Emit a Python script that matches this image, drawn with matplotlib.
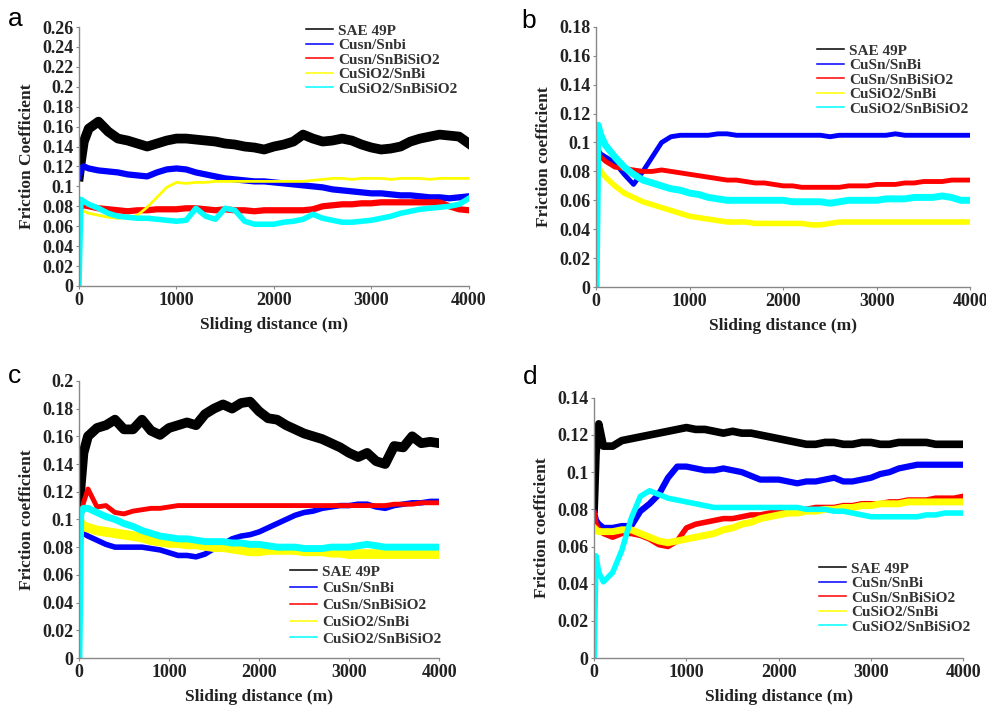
import numpy as np
import matplotlib
matplotlib.use("Agg")
import matplotlib.pyplot as plt
from matplotlib.lines import Line2D

# sliding distance grid (m)
dist = [0, 20, 50] + list(range(100, 4001, 100))

labels_a = ["SAE 49P", "Cusn/Snbi", "Cusn/SnBiSiO2", "CuSiO2/SnBi", "CuSiO2/SnBiSiO2"]
labels_bcd = ["SAE 49P", "CuSn/SnBi", "CuSn/SnBiSiO2", "CuSiO2/SnBi", "CuSiO2/SnBiSiO2"]

# ---- panel a ----
a_sae = [0.110, 0.125, 0.145, 0.158, 0.165, 0.155, 0.148, 0.146, 0.143, 0.140,
         0.143, 0.146, 0.148, 0.148, 0.147, 0.146, 0.145, 0.143, 0.142, 0.140,
         0.139, 0.137, 0.140, 0.142, 0.145, 0.152, 0.148, 0.145, 0.146, 0.148,
         0.146, 0.142, 0.139, 0.137, 0.138, 0.140, 0.145, 0.148, 0.150, 0.152,
         0.151, 0.150, 0.143]
a_cusn = [0.110, 0.118, 0.120, 0.118, 0.116, 0.115, 0.114, 0.112, 0.111, 0.110,
          0.114, 0.117, 0.118, 0.117, 0.114, 0.112, 0.110, 0.108, 0.107, 0.106,
          0.105, 0.105, 0.104, 0.103, 0.102, 0.101, 0.100, 0.099, 0.097, 0.096,
          0.095, 0.094, 0.093, 0.093, 0.092, 0.091, 0.091, 0.090, 0.089, 0.089,
          0.088, 0.089, 0.090]
a_cusn_sio2 = [0.065, 0.082, 0.081, 0.080, 0.078, 0.077, 0.076, 0.075, 0.076, 0.076,
               0.077, 0.077, 0.077, 0.078, 0.078, 0.077, 0.076, 0.077, 0.076, 0.076,
               0.075, 0.076, 0.076, 0.076, 0.076, 0.076, 0.077, 0.080, 0.081, 0.082,
               0.082, 0.083, 0.083, 0.084, 0.084, 0.084, 0.084, 0.084, 0.084, 0.084,
               0.080, 0.077, 0.076]
a_cusio2 = [0.082, 0.078, 0.075, 0.073, 0.071, 0.069, 0.068, 0.069, 0.071, 0.079,
            0.089, 0.099, 0.104, 0.103, 0.104, 0.104, 0.105, 0.105, 0.105, 0.105,
            0.105, 0.105, 0.105, 0.105, 0.105, 0.105, 0.106, 0.107, 0.108, 0.108,
            0.107, 0.108, 0.108, 0.108, 0.107, 0.108, 0.108, 0.108, 0.107, 0.108,
            0.108, 0.108, 0.108]
a_cusio2_sio2 = [0.000, 0.087, 0.085, 0.082, 0.078, 0.073, 0.070, 0.069, 0.068, 0.068,
                 0.067, 0.066, 0.065, 0.066, 0.078, 0.070, 0.067, 0.078, 0.076, 0.065,
                 0.062, 0.062, 0.062, 0.064, 0.065, 0.067, 0.072, 0.068, 0.066, 0.064,
                 0.064, 0.065, 0.066, 0.068, 0.070, 0.073, 0.075, 0.077, 0.078, 0.079,
                 0.080, 0.082, 0.088]

# ---- panel b (no SAE 49P curve drawn in the original) ----
b_sae = []
b_cusn = [0.110, 0.095, 0.092, 0.090, 0.086, 0.078, 0.071, 0.080, 0.090, 0.100,
          0.104, 0.105, 0.105, 0.105, 0.105, 0.106, 0.106, 0.105, 0.105, 0.105,
          0.105, 0.105, 0.105, 0.105, 0.105, 0.105, 0.105, 0.104, 0.105, 0.105,
          0.105, 0.105, 0.105, 0.105, 0.106, 0.105, 0.105, 0.105, 0.105, 0.105,
          0.105, 0.105, 0.105]
b_cusn_sio2 = [0.095, 0.092, 0.090, 0.087, 0.083, 0.082, 0.081, 0.080, 0.080, 0.081,
               0.080, 0.079, 0.078, 0.077, 0.076, 0.075, 0.074, 0.074, 0.073, 0.072,
               0.072, 0.071, 0.070, 0.070, 0.069, 0.069, 0.069, 0.069, 0.069, 0.070,
               0.070, 0.070, 0.071, 0.071, 0.071, 0.072, 0.072, 0.073, 0.073, 0.073,
               0.074, 0.074, 0.074]
b_cusio2 = [0.090, 0.084, 0.080, 0.076, 0.070, 0.065, 0.062, 0.059, 0.057, 0.055,
            0.053, 0.051, 0.049, 0.048, 0.047, 0.046, 0.045, 0.045, 0.045, 0.044,
            0.044, 0.044, 0.044, 0.044, 0.044, 0.043, 0.043, 0.044, 0.045, 0.045,
            0.045, 0.045, 0.045, 0.045, 0.045, 0.045, 0.045, 0.045, 0.045, 0.045,
            0.045, 0.045, 0.045]
b_cusio2_sio2 = [0.000, 0.112, 0.105, 0.098, 0.090, 0.083, 0.078, 0.074, 0.072, 0.070,
                 0.068, 0.067, 0.065, 0.064, 0.062, 0.061, 0.060, 0.060, 0.060, 0.060,
                 0.060, 0.060, 0.060, 0.059, 0.059, 0.059, 0.059, 0.058, 0.059, 0.060,
                 0.060, 0.060, 0.060, 0.061, 0.061, 0.061, 0.062, 0.062, 0.062, 0.063,
                 0.062, 0.060, 0.060]

# ---- panel c ----
c_sae = [0.100, 0.125, 0.148, 0.160, 0.166, 0.168, 0.172, 0.165, 0.165, 0.172,
         0.164, 0.161, 0.166, 0.168, 0.170, 0.168, 0.176, 0.180, 0.183, 0.180,
         0.184, 0.185, 0.178, 0.173, 0.172, 0.168, 0.165, 0.162, 0.160, 0.158,
         0.155, 0.152, 0.148, 0.145, 0.148, 0.142, 0.140, 0.153, 0.152, 0.160,
         0.155, 0.156, 0.155]
c_cusn = [0.085, 0.092, 0.090, 0.088, 0.085, 0.082, 0.080, 0.080, 0.080, 0.080,
          0.079, 0.078, 0.076, 0.074, 0.074, 0.073, 0.075, 0.079, 0.082, 0.086,
          0.088, 0.089, 0.091, 0.094, 0.097, 0.100, 0.103, 0.105, 0.106, 0.108,
          0.109, 0.110, 0.110, 0.111, 0.111, 0.109, 0.108, 0.110, 0.111, 0.112,
          0.112, 0.113, 0.113]
c_cusn_sio2 = [0.068, 0.100, 0.112, 0.122, 0.109, 0.110, 0.105, 0.104, 0.106, 0.107,
               0.108, 0.108, 0.109, 0.110, 0.110, 0.110, 0.110, 0.110, 0.110, 0.110,
               0.110, 0.110, 0.110, 0.110, 0.110, 0.110, 0.110, 0.110, 0.110, 0.110,
               0.110, 0.110, 0.110, 0.110, 0.110, 0.110, 0.110, 0.111, 0.111, 0.111,
               0.112, 0.112, 0.112]
c_cusio2 = [0.100, 0.097, 0.095, 0.094, 0.092, 0.091, 0.090, 0.089, 0.088, 0.087,
            0.085, 0.084, 0.083, 0.083, 0.082, 0.082, 0.081, 0.080, 0.080, 0.079,
            0.078, 0.077, 0.077, 0.078, 0.078, 0.078, 0.078, 0.077, 0.077, 0.077,
            0.076, 0.076, 0.075, 0.075, 0.075, 0.075, 0.075, 0.075, 0.075, 0.075,
            0.075, 0.075, 0.075]
c_cusio2_sio2 = [0.000, 0.105, 0.108, 0.108, 0.105, 0.102, 0.100, 0.097, 0.095, 0.092,
                 0.090, 0.088, 0.087, 0.086, 0.086, 0.085, 0.084, 0.084, 0.084, 0.083,
                 0.083, 0.082, 0.082, 0.081, 0.080, 0.080, 0.080, 0.079, 0.079, 0.079,
                 0.080, 0.080, 0.080, 0.081, 0.082, 0.081, 0.080, 0.080, 0.080, 0.080,
                 0.080, 0.080, 0.080]

# ---- panel d ----
d_sae = [0.080, 0.110, 0.126, 0.114, 0.114, 0.117, 0.118, 0.119, 0.120, 0.121,
         0.122, 0.123, 0.124, 0.123, 0.123, 0.122, 0.121, 0.122, 0.121, 0.121,
         0.120, 0.119, 0.118, 0.117, 0.116, 0.115, 0.115, 0.116, 0.116, 0.115,
         0.115, 0.116, 0.116, 0.115, 0.115, 0.116, 0.116, 0.116, 0.116, 0.115,
         0.115, 0.115, 0.115]
d_cusn = [0.078, 0.074, 0.072, 0.070, 0.070, 0.071, 0.071, 0.079, 0.083, 0.088,
          0.097, 0.103, 0.103, 0.102, 0.101, 0.101, 0.102, 0.101, 0.100, 0.098,
          0.096, 0.096, 0.096, 0.095, 0.094, 0.095, 0.095, 0.096, 0.097, 0.095,
          0.095, 0.096, 0.097, 0.099, 0.100, 0.102, 0.103, 0.104, 0.104, 0.104,
          0.104, 0.104, 0.104]
d_cusn_sio2 = [0.078, 0.072, 0.069, 0.067, 0.065, 0.067, 0.067, 0.066, 0.064, 0.061,
               0.060, 0.063, 0.070, 0.072, 0.073, 0.074, 0.075, 0.075, 0.076, 0.077,
               0.077, 0.078, 0.079, 0.079, 0.080, 0.080, 0.081, 0.081, 0.081, 0.082,
               0.082, 0.083, 0.083, 0.083, 0.084, 0.084, 0.085, 0.085, 0.085, 0.086,
               0.086, 0.086, 0.087]
d_cusio2 = [0.070, 0.069, 0.068, 0.068, 0.068, 0.069, 0.069, 0.067, 0.065, 0.063,
            0.062, 0.063, 0.064, 0.065, 0.066, 0.067, 0.069, 0.070, 0.072, 0.073,
            0.075, 0.076, 0.077, 0.078, 0.078, 0.079, 0.079, 0.080, 0.080, 0.081,
            0.081, 0.082, 0.082, 0.083, 0.083, 0.083, 0.084, 0.084, 0.084, 0.084,
            0.084, 0.084, 0.084]
d_cusio2_sio2 = [0.000, 0.055, 0.046, 0.041, 0.046, 0.058, 0.075, 0.087, 0.090, 0.088,
                 0.086, 0.085, 0.084, 0.083, 0.082, 0.081, 0.081, 0.081, 0.081, 0.081,
                 0.081, 0.081, 0.081, 0.081, 0.081, 0.080, 0.080, 0.080, 0.079, 0.079,
                 0.078, 0.077, 0.076, 0.076, 0.076, 0.076, 0.076, 0.076, 0.077, 0.077,
                 0.078, 0.078, 0.078]

colors = ["#000000", "#0000ff", "#ff0000", "#ffff00", "#00ffff"]
serif = "Liberation Serif"

panels = [
    # tag, axes rect, series, labels, ymax, ylabel, line widths, legend anchor (fig px), label spacing
    ("a", [0.080, 0.5955, 0.395, 0.3663], [a_sae, a_cusn, a_cusn_sio2, a_cusio2, a_cusio2_sio2],
     labels_a, 0.26, "Friction Coefficient", [7, 4.5, 4.5, 2, 4], (306, 24), 0.05),
    ("b", [0.604, 0.594, 0.379, 0.368], [b_sae, b_cusn, b_cusn_sio2, b_cusio2, b_cusio2_sio2],
     labels_bcd, 0.18, "Friction coefficient", [1, 3.5, 3.5, 4, 5], (817, 44), 0.05),
    ("c", [0.080, 0.0693, 0.365, 0.392], [c_sae, c_cusn, c_cusn_sio2, c_cusio2, c_cusio2_sio2],
     labels_bcd, 0.20, "Friction coefficient", [7, 4, 3.5, 7, 5], (290, 565), 0.2),
    ("d", [0.602, 0.0693, 0.374, 0.368], [d_sae, d_cusn, d_cusn_sio2, d_cusio2, d_cusio2_sio2],
     labels_bcd, 0.14, "Friction coefficient", [5.5, 4.5, 4, 5, 4], (819, 562), 0.05),
]
tag_pos = {"a": (8, 26), "b": (521, 28), "c": (8, 383), "d": (523, 384)}

W, H = 987, 707
fig = plt.figure(figsize=(W / 100, H / 100), dpi=100)

for tag, rect, series, labels, ymax, ylabel, lws, leg_xy, lsp in panels:
    ax = fig.add_axes(rect)
    for vals, col, lw in zip(series, colors, lws):
        ax.plot(dist[:len(vals)], vals, color=col, lw=lw, solid_joinstyle="round")
    ax.set_xlim(0, 4000)
    ax.set_ylim(0, ymax)
    ax.set_xticks([0, 1000, 2000, 3000, 4000])
    ax.set_yticks(np.arange(0, ymax + 0.001, 0.02))
    ax.set_yticklabels(["%g" % round(v, 2) for v in ax.get_yticks()])
    for s in ["top", "right"]:
        ax.spines[s].set_visible(False)
    for s in ["left", "bottom"]:
        ax.spines[s].set_color("#888888")
        ax.spines[s].set_linewidth(1.0)
    ax.tick_params(length=2, color="#888888", pad=2)
    for t in ax.get_xticklabels() + ax.get_yticklabels():
        t.set_fontfamily(serif)
        t.set_fontweight("bold")
        t.set_fontsize(13)
        t.set_color("#222222")
    ax.set_xlabel("Sliding distance (m)", family=serif, weight="bold", size=12.5,
                  color="#222222", labelpad=6)
    ax.set_ylabel(ylabel, family=serif, weight="bold", size=12.5, color="#222222",
                  labelpad=5)
    # thin legend keys, like the original
    handles = [Line2D([], [], color=c, lw=1.1) for c in colors]
    leg = ax.legend(handles, labels, loc="upper left",
                    bbox_to_anchor=(leg_xy[0] / W, 1 - leg_xy[1] / H),
                    bbox_transform=fig.transFigure, frameon=False,
                    prop={"family": serif, "weight": "bold", "size": 11},
                    handlelength=1.8, handletextpad=0.3, labelspacing=lsp,
                    borderpad=0, borderaxespad=0)
    for t in leg.get_texts():
        t.set_color("#333333")
    fig.text(tag_pos[tag][0] / W, 1 - tag_pos[tag][1] / H, tag, family="Liberation Sans",
             size=19, ha="left", va="baseline")

fig.savefig("out.png", dpi=100)
